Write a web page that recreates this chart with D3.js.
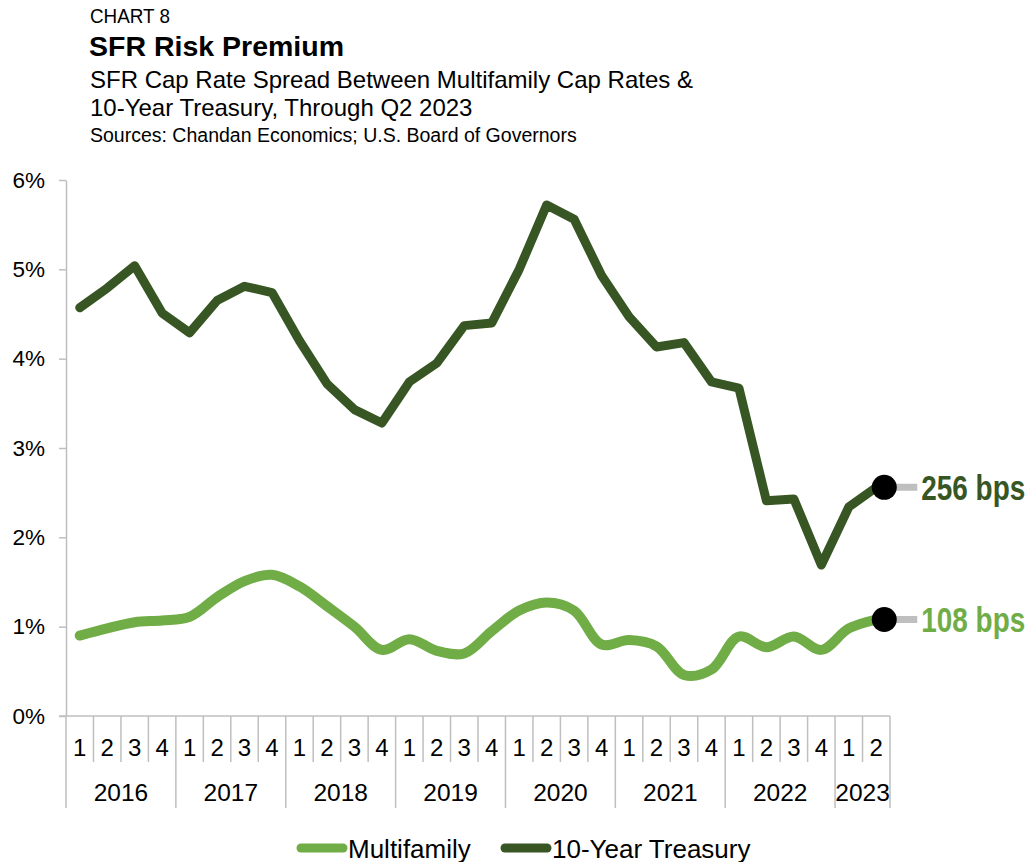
<!DOCTYPE html>
<html>
<head>
<meta charset="utf-8">
<script src="https://cdn.jsdelivr.net/npm/d3@7"></script>
<style>
  html, body { margin: 0; padding: 0; background: #fff; }
  svg { display: block; }
  text { font-family: "Liberation Sans", Arial, Helvetica, sans-serif; fill: #000; }
</style>
</head>
<body>
<svg id="chart" width="1031" height="862"></svg>
<script>
// Quarterly categories, Q1 2016 through Q2 2023
const years = ["2016", "2017", "2018", "2019", "2020", "2021", "2022", "2023"];
const quarters = [
  "1","2","3","4", "1","2","3","4", "1","2","3","4", "1","2","3","4",
  "1","2","3","4", "1","2","3","4", "1","2","3","4", "1","2"
];
const quarterYears = [
  "2016","2016","2016","2016", "2017","2017","2017","2017",
  "2018","2018","2018","2018", "2019","2019","2019","2019",
  "2020","2020","2020","2020", "2021","2021","2021","2021",
  "2022","2022","2022","2022", "2023","2023"
];

// Spread (percentage points)
const multifamily = [
  0.90, 0.98, 1.05, 1.07, 1.11, 1.33, 1.51, 1.58,
  1.45, 1.23, 1.00, 0.74, 0.86, 0.73, 0.70, 0.95,
  1.18, 1.27, 1.18, 0.80, 0.85, 0.78, 0.46, 0.52,
  0.89, 0.77, 0.89, 0.74, 0.98, 1.08
];
const treasury = [
  4.57, 4.79, 5.04, 4.51, 4.29, 4.65, 4.81, 4.74,
  4.20, 3.72, 3.43, 3.28, 3.74, 3.95, 4.37, 4.40,
  5.00, 5.72, 5.56, 4.93, 4.47, 4.13, 4.18, 3.74,
  3.67, 2.41, 2.43, 1.69, 2.34, 2.56
];
const yTicks = [0, 1, 2, 3, 4, 5, 6];
const seriesNames = ["Multifamily", "10-Year Treasury"];
const endLabels = ["108 bps", "256 bps"];

const LIGHT = "#70ad47";
const DARK = "#375623";
const AXIS = "#bfbfbf";

const svg = d3.select("#chart");

// Squeeze a text horizontally to a target width (condensed look)
function condense(sel, width) {
  sel.each(function () {
    const w = this.getComputedTextLength();
    const t = d3.select(this);
    const x0 = +t.attr("x") || 0;
    const y0 = +t.attr("y") || 0;
    t.attr("x", 0).attr("y", 0)
      .attr("transform", `translate(${x0},${y0}) scale(${width / w},1)`);
  });
}

// Heading block
const head = svg.append("g");
head.append("text").attr("x", 90).attr("y", 23)
  .attr("font-size", 19.5).text("CHART 8").call(condense, 80);
head.append("text").attr("x", 89).attr("y", 56)
  .attr("font-size", 28.5).attr("font-weight", "bold").text("SFR Risk Premium");
head.append("text").attr("x", 90).attr("y", 88)
  .attr("font-size", 24).text("SFR Cap Rate Spread Between Multifamily Cap Rates &");
head.append("text").attr("x", 90).attr("y", 116)
  .attr("font-size", 24).text("10-Year Treasury, Through Q2 2023");
head.append("text").attr("x", 90).attr("y", 142)
  .attr("font-size", 19.5).text("Sources: Chandan Economics; U.S. Board of Governors");

// Scales
const idx = d3.range(quarters.length);
const x = d3.scaleBand().domain(idx).range([66, 890]).padding(0);
const xc = i => x(i) + x.bandwidth() / 2;
const y = d3.scaleLinear().domain([0, 6]).range([716, 180]);

// Y axis
const yAxis = svg.append("g").attr("transform", "translate(66,0)")
  .call(d3.axisLeft(y).tickValues(yTicks).tickFormat(d => d + "%").tickSize(7).tickSizeOuter(0).tickPadding(14));
yAxis.select(".domain").attr("stroke", AXIS).attr("stroke-width", 1.5);
yAxis.selectAll(".tick line").attr("stroke", AXIS).attr("stroke-width", 1.5);
yAxis.selectAll(".tick text").attr("font-size", 22.5)
  .style("font-family", "'Liberation Sans', Arial, sans-serif").attr("fill", "#000");

// X axis: baseline, quarter separators, year separators
const xAxis = svg.append("g");
xAxis.append("line")
  .attr("x1", 59).attr("x2", x.range()[1])
  .attr("y1", y(0)).attr("y2", y(0))
  .attr("stroke", AXIS).attr("stroke-width", 1.5);

const boundaries = idx.concat([quarters.length]);
const bx = i => (i < quarters.length ? x(i) : x.range()[1]);
const isYearStart = i => i === 0 || i === quarters.length || quarterYears[i] !== quarterYears[i - 1];

xAxis.selectAll("line.sep").data(boundaries).join("line")
  .attr("class", "sep")
  .attr("x1", i => bx(i)).attr("x2", i => bx(i))
  .attr("y1", y(0)).attr("y2", i => isYearStart(i) ? 808 : 762)
  .attr("stroke", AXIS).attr("stroke-width", 1.5);

xAxis.selectAll("text.q").data(idx).join("text")
  .attr("class", "q")
  .attr("x", i => xc(i)).attr("y", 756)
  .attr("text-anchor", "middle").attr("font-size", 24)
  .text(i => quarters[i]);

const yearSpans = years.map(yr => {
  const ids = idx.filter(i => quarterYears[i] === yr);
  return { yr, a: x(ids[0]), b: x(ids[ids.length - 1]) + x.bandwidth() };
});
xAxis.selectAll("text.yr").data(yearSpans).join("text")
  .attr("class", "yr")
  .attr("x", d => (d.a + d.b) / 2).attr("y", 801)
  .attr("text-anchor", "middle").attr("font-size", 24.5)
  .text(d => d.yr);

// Series lines
const lineSmooth = d3.line().x((d, i) => xc(i)).y(d => y(d)).curve(d3.curveCatmullRom.alpha(0.5));
const lineStraight = d3.line().x((d, i) => xc(i)).y(d => y(d));

svg.append("path").datum(multifamily)
  .attr("d", lineSmooth)
  .attr("fill", "none").attr("stroke", LIGHT).attr("stroke-width", 10)
  .attr("stroke-linecap", "round").attr("stroke-linejoin", "round");

svg.append("path").datum(treasury)
  .attr("d", lineStraight)
  .attr("fill", "none").attr("stroke", DARK).attr("stroke-width", 9)
  .attr("stroke-linecap", "round").attr("stroke-linejoin", "round");

// End markers with leader lines and value labels
const last = quarters.length - 1;
const ends = [
  { v: multifamily[last], label: endLabels[0], color: LIGHT },
  { v: treasury[last], label: endLabels[1], color: DARK }
];
const endG = svg.append("g").selectAll("g").data(ends).join("g")
  .attr("transform", d => `translate(${xc(last) + 8},${y(d.v)})`);
endG.append("line").attr("x1", 0).attr("x2", 33).attr("y1", 0).attr("y2", 0)
  .attr("stroke", AXIS).attr("stroke-width", 7);
endG.append("circle").attr("r", 12.5).attr("fill", "#000");
endG.append("text").attr("x", 37).attr("y", 12.5)
  .attr("font-weight", "bold").attr("font-size", 35)
  .style("fill", d => d.color)
  .text(d => d.label)
  .call(condense, 104);

// Legend
const legend = svg.append("g");
const legendItems = [
  { name: seriesNames[0], color: LIGHT, x: 297 },
  { name: seriesNames[1], color: DARK, x: 501 }
];
const li = legend.selectAll("g").data(legendItems).join("g")
  .attr("transform", d => `translate(${d.x},848)`);
li.append("line").attr("x1", 4).attr("x2", 46).attr("y1", 0).attr("y2", 0)
  .attr("stroke", d => d.color).attr("stroke-width", 9).attr("stroke-linecap", "round");
li.append("text").attr("x", 51).attr("y", 9.5).attr("font-size", 26).text(d => d.name);
</script>
</body>
</html>
